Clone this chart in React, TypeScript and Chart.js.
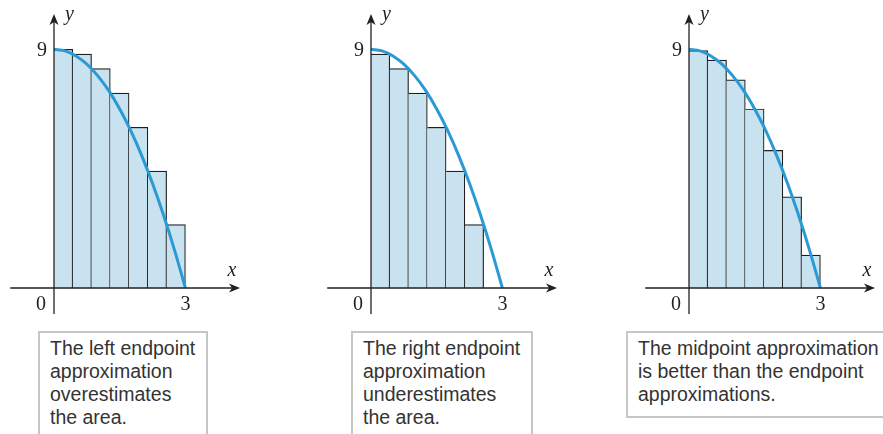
import React, { useEffect, useRef } from "react";
import { Chart, registerables } from "chart.js";

Chart.register(...registerables);

// ---- data ----
const CURVE_X = [0, 0.25, 0.5, 0.75, 1, 1.25, 1.5, 1.75, 2, 2.25, 2.5, 2.75, 3];
const CURVE_Y = [9, 8.94, 8.75, 8.44, 8, 7.44, 6.75, 5.94, 5, 3.94, 2.75, 1.44, 0];
const BAR_CENTERS = [0.214, 0.643, 1.071, 1.5, 1.929, 2.357, 2.786];
const LEFT_HEIGHTS = [9, 8.82, 8.27, 7.35, 6.06, 4.41, 2.39];
const RIGHT_HEIGHTS = [8.82, 8.27, 7.35, 6.06, 4.41, 2.39, 0];
const MID_HEIGHTS = [8.95, 8.59, 7.85, 6.75, 5.19, 3.44, 1.24];
const X_TICK_VALUES = [0, 3];
const X_TICK_LABELS = ["0", "3"];
const Y_TICK_VALUES = [9];
const Y_TICK_LABELS = ["9"];
const AXIS_NAMES = ["x", "y"];
const CAPTION_LEFT = ["The left endpoint", "approximation", "overestimates", "the area."];
const CAPTION_RIGHT = ["The right endpoint", "approximation", "underestimates", "the area."];
const CAPTION_MID = ["The midpoint approximation", "is better than the endpoint", "approximations."];

// ---- layout / style constants ----
const CANVAS_W = 250;
const CANVAS_H = 320;
const X_RANGE = [-1.2329, 4.4749];
const Y_RANGE = [-1.2066, 10.8597];
const X_AXIS_EXTENT = [-1.0, 4.247];
const Y_AXIS_EXTENT = [-0.98, 10.33];
const AXIS_COLOR = "#231f20";
const BAR_FILL = "#c9e2ef";
const BAR_EDGE = "#1f1f1f";
const CURVE_COLOR = "#2a9ad6";
const SERIF = "'Liberation Serif', 'DejaVu Serif', serif";

const arrowAxesPlugin = {
  id: "arrowAxes",
  afterDatasetsDraw(chart: any) {
    const { ctx } = chart;
    const xs = chart.scales.x;
    const ys = chart.scales.y;
    const ox = xs.getPixelForValue(0);
    const oy = ys.getPixelForValue(0);
    ctx.save();
    ctx.strokeStyle = AXIS_COLOR;
    ctx.fillStyle = AXIS_COLOR;
    ctx.lineWidth = 1.3;

    // x axis
    const xStart = xs.getPixelForValue(X_AXIS_EXTENT[0]);
    const xEnd = xs.getPixelForValue(X_AXIS_EXTENT[1]);
    ctx.beginPath();
    ctx.moveTo(xStart, oy);
    ctx.lineTo(xEnd - 6, oy);
    ctx.stroke();
    ctx.beginPath();
    ctx.moveTo(xEnd, oy);
    ctx.lineTo(xEnd - 11, oy - 4.5);
    ctx.lineTo(xEnd - 8, oy);
    ctx.lineTo(xEnd - 11, oy + 4.5);
    ctx.closePath();
    ctx.fill();

    // y axis
    const yStart = ys.getPixelForValue(Y_AXIS_EXTENT[0]);
    const yEnd = ys.getPixelForValue(Y_AXIS_EXTENT[1]);
    ctx.beginPath();
    ctx.moveTo(ox, yStart);
    ctx.lineTo(ox, yEnd + 6);
    ctx.stroke();
    ctx.beginPath();
    ctx.moveTo(ox, yEnd);
    ctx.lineTo(ox - 4.5, yEnd + 11);
    ctx.lineTo(ox, yEnd + 8);
    ctx.lineTo(ox + 4.5, yEnd + 11);
    ctx.closePath();
    ctx.fill();

    // tick labels
    ctx.font = `20px ${SERIF}`;
    ctx.textBaseline = "alphabetic";
    X_TICK_VALUES.forEach((v, i) => {
      const px = xs.getPixelForValue(v);
      ctx.textAlign = "center";
      ctx.fillText(X_TICK_LABELS[i], v === 0 ? px - 13 : px, oy + 22);
    });
    Y_TICK_VALUES.forEach((v, i) => {
      const py = ys.getPixelForValue(v);
      ctx.textAlign = "right";
      ctx.fillText(Y_TICK_LABELS[i], ox - 7, py + 6.5);
    });

    // axis names
    ctx.font = `italic 20px ${SERIF}`;
    ctx.textAlign = "center";
    ctx.fillText(AXIS_NAMES[0], xEnd - 8, oy - 12);
    ctx.textAlign = "left";
    ctx.fillText(AXIS_NAMES[1], ox + 11, yEnd + 6);
    ctx.restore();
  },
};

function RiemannPanel({ heights, left }: { heights: number[]; left: number }) {
  const ref = useRef<HTMLCanvasElement | null>(null);
  useEffect(() => {
    if (!ref.current) return;
    const chart = new Chart(ref.current, {
      type: "bar",
      data: {
        datasets: [
          {
            type: "line",
            data: CURVE_X.map((x, i) => ({ x, y: CURVE_Y[i] })),
            borderColor: CURVE_COLOR,
            borderWidth: 3,
            pointRadius: 0,
            cubicInterpolationMode: "monotone",
            fill: false,
            order: 0,
          } as any,
          {
            type: "bar",
            data: BAR_CENTERS.map((x, i) => ({ x, y: heights[i] })),
            backgroundColor: BAR_FILL,
            borderColor: BAR_EDGE,
            borderWidth: { top: 1.2, right: 1.2, bottom: 0, left: 0 },
            borderSkipped: false,
            categoryPercentage: 1,
            barPercentage: 1,
            order: 1,
          } as any,
        ],
      },
      options: {
        animation: false,
        responsive: false,
        devicePixelRatio: 1,
        layout: { padding: 0 },
        plugins: { legend: { display: false }, tooltip: { enabled: false }, title: { display: false } },
        events: [],
        scales: {
          x: { type: "linear", min: X_RANGE[0], max: X_RANGE[1], display: false, offset: false },
          y: { type: "linear", min: Y_RANGE[0], max: Y_RANGE[1], display: false },
        },
      } as any,
      plugins: [arrowAxesPlugin],
    });
    return () => chart.destroy();
  }, [heights]);
  return (
    <canvas
      ref={ref}
      width={CANVAS_W}
      height={CANVAS_H}
      style={{ position: "absolute", left, top: 0, width: CANVAS_W, height: CANVAS_H }}
    />
  );
}

function Caption({ lines, left, width, height }: { lines: string[]; left: number; width: number; height: number }) {
  return (
    <div
      style={{
        position: "absolute",
        left,
        top: 331,
        width,
        height,
        boxSizing: "border-box",
        border: "2px solid #c6c6c6",
        padding: "4px 0 0 10px",
        fontFamily: "'Liberation Sans', Arial, sans-serif",
        fontSize: "19.5px",
        lineHeight: "23px",
        color: "#333333",
        whiteSpace: "nowrap",
      }}
    >
      {lines.map((l, i) => (
        <div key={i}>{l}</div>
      ))}
    </div>
  );
}

export default function App() {
  return (
    <div
      style={{
        position: "fixed",
        left: 0,
        top: 0,
        width: 883,
        height: 434,
        overflow: "hidden",
        background: "#ffffff",
      }}
    >
      <RiemannPanel heights={LEFT_HEIGHTS} left={0} />
      <RiemannPanel heights={RIGHT_HEIGHTS} left={317} />
      <RiemannPanel heights={MID_HEIGHTS} left={635} />
      <Caption lines={CAPTION_LEFT} left={38} width={170} height={130} />
      <Caption lines={CAPTION_RIGHT} left={351} width={182} height={130} />
      <Caption lines={CAPTION_MID} left={626} width={300} height={87} />
    </div>
  );
}
